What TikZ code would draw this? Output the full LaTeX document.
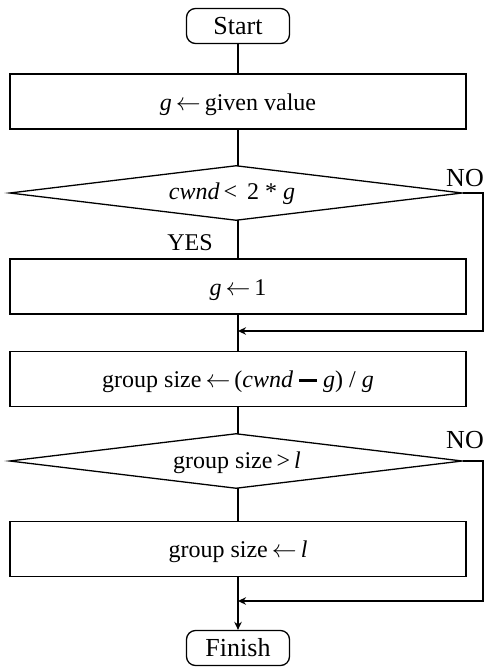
\documentclass[tikz,border=0pt]{standalone}
\usepackage{fontspec}
\setmainfont{Liberation Serif}
\usetikzlibrary{shapes.geometric,arrows.meta}
\newcommand{\larr}{\,$\leftarrow$\,}
\begin{document}
\begin{tikzpicture}[x=1pt,y=-1pt,
  every node/.style={font=\fontsize{24}{28}\selectfont},
  big/.style={font=\fontsize{26}{30}\selectfont},
  term/.style={draw,line width=1.3pt,rounded corners=9pt,minimum width=103pt,minimum height=35pt,inner sep=0pt,big},
  proc/.style={draw,line width=1.3pt,minimum width=456pt,minimum height=55pt,inner sep=0pt,text height=20pt,text depth=2.5pt},
  dec/.style={draw,diamond,line width=1.3pt,minimum width=453pt,minimum height=55pt,inner sep=0pt,aspect=8},
  conn/.style={line width=1.1pt},
  loop/.style={line width=2pt},
  arr/.style={-{Stealth[length=8pt,width=7.5pt]}},
  lbl/.style={inner sep=0pt}
]
\useasboundingbox (0,0) rectangle (484,668);
\node[term] (start) at (238,26) {Start};
\node[proc] (b1) at (238,101.5) {\textit{g}\larr given value};
\node[dec] (d1) at (236,193) {};
\node[lbl] at (232,194) {\textit{cwnd}\,<\,~2~*~\textit{g}};
\node[proc] (b2) at (238,286.5) {\textit{g}\larr 1};
\node[proc] (b3) at (238,379) {group size\larr(\textit{cwnd}~\rule[0.22em]{0.75em}{0.14em}~\textit{g}) / \textit{g}};
\node[dec] (d2) at (236,461) {};
\node[lbl] at (237,463) {group size\,>\,\textit{l}};
\node[proc] (b4) at (238,549) {group size\larr\textit{l}};
\node[term] (fin) at (238,648) {Finish};

\coordinate (j1) at (238,331);
\coordinate (j2) at (238,601);
\coordinate (r1) at (483,193);
\coordinate (r2) at (483,461);

\node[lbl,big] at (465,178) {NO};
\node[lbl,big] at (465,440) {NO};
\node[lbl] at (190,243) {YES};

\draw[conn] (start.south) -- (b1.north);
\draw[conn] (b1.south) -- (238,166);
\draw[conn] (238,220) -- (b2.north);
\draw[conn] (b2.south) -- (b3.north);
\draw[conn] (b3.south) -- (238,434);
\draw[conn] (238,488) -- (b4.north);
\draw[loop,arr] (b4.south) -- (fin.north);
\draw[loop,arr] (d1.east) -- (r1) |- (j1);
\draw[loop,arr] (d2.east) -- (r2) |- (j2);
\end{tikzpicture}
\end{document}
